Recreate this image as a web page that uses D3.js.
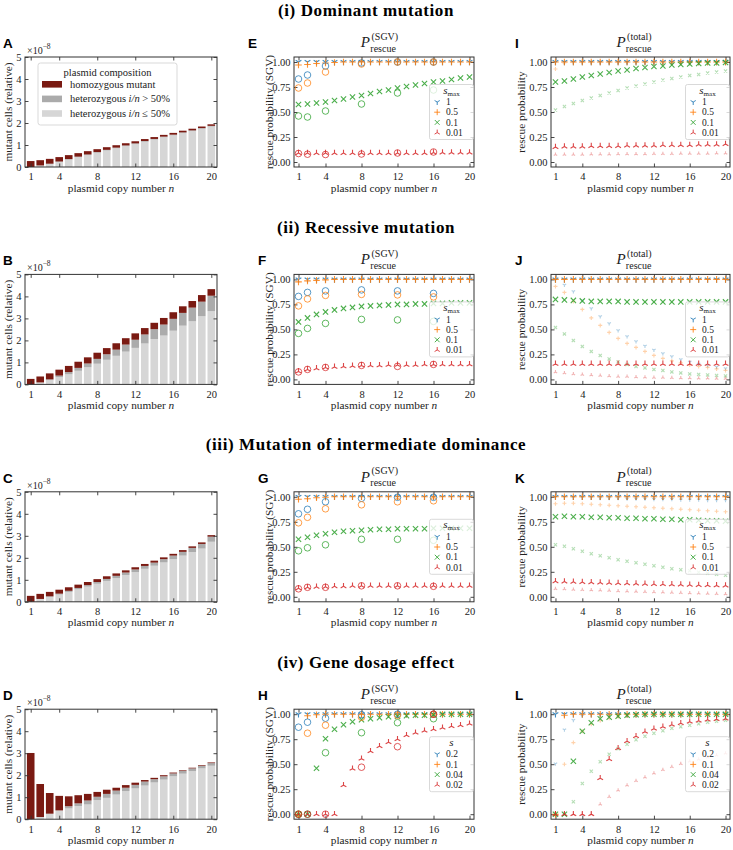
<!DOCTYPE html>
<html><head><meta charset="utf-8">
<script src="https://cdn.jsdelivr.net/npm/d3@7"></script>
<style>
body{margin:0;background:#fff;}
</style></head><body>
<svg id="fig" width="733" height="850"></svg>
<script>
// ---------------- DATA ----------------
const copyNumbers = [1,2,3,4,5,6,7,8,9,10,11,12,13,14,15,16,17,18,19,20];
const simCopyNumbers = [1,2,4,8,12,16];
const xTickValues = [1,4,8,12,16,20];
const barYTicks = [0,1,2,3,4,5];
const probYTicks = [0,0.25,0.5,0.75,1];
const rowTitles = ["(i) Dominant mutation","(ii) Recessive mutation","(iii) Mutation of intermediate dominance","(iv) Gene dosage effect"];
const barLetters = ["A","B","C","D"];
const sgvLetters = ["E","F","G","H"];
const totLetters = ["I","J","K","L"];
const legendLabelsSmax = ["1","0.5","0.1","0.01"];
const legendLabelsS = ["0.2","0.1","0.04","0.02"];

// bar panels (units of 1e-8): homozygous, heterozygous i/n>50%, heterozygous i/n<=50%
const domHomo    = [0.27,0.24,0.22,0.2,0.18,0.16,0.15,0.13,0.12,0.11,0.1,0.095,0.09,0.085,0.08,0.08,0.075,0.075,0.07,0.07];
const domHetHigh = [0,0,0.02,0.02,0.025,0.025,0.03,0.03,0.03,0.03,0.03,0.03,0.03,0.03,0.03,0.03,0.03,0.03,0.03,0.03];
const domHetLow  = [0,0.07,0.13,0.23,0.335,0.445,0.54,0.65,0.75,0.85,0.95,1.045,1.15,1.245,1.35,1.44,1.545,1.635,1.74,1.84];

const recHomo    = [0.25,0.27,0.27,0.27,0.28,0.28,0.28,0.28,0.28,0.29,0.29,0.29,0.29,0.29,0.3,0.3,0.3,0.3,0.3,0.3];
const recHetHigh = [0,0,0.04,0.07,0.1,0.13,0.17,0.22,0.25,0.28,0.32,0.37,0.41,0.45,0.5,0.54,0.58,0.62,0.66,0.7];
const recHetLow  = [0,0.09,0.19,0.33,0.46,0.62,0.78,0.94,1.12,1.3,1.49,1.66,1.86,2.06,2.22,2.44,2.67,2.87,3.1,3.33];

const intHomo    = [0.27,0.23,0.2,0.18,0.16,0.15,0.14,0.13,0.12,0.11,0.1,0.1,0.09,0.09,0.08,0.08,0.08,0.07,0.07,0.07];
const intHetHigh = [0,0,0.03,0.04,0.05,0.06,0.07,0.08,0.09,0.1,0.11,0.12,0.13,0.14,0.15,0.16,0.17,0.19,0.21,0.23];
const intHetLow  = [0,0.13,0.22,0.33,0.45,0.57,0.69,0.82,0.95,1.08,1.22,1.35,1.5,1.64,1.79,1.94,2.1,2.26,2.42,2.73];

const dosHomo    = [3.01,1.5,0.94,0.66,0.45,0.37,0.3,0.22,0.19,0.13,0.12,0.1,0.07,0.06,0.05,0.04,0.03,0.03,0.03,0.03];
const dosHetHigh = [0,0,0,0,0.1,0.12,0.18,0.15,0.18,0.18,0.15,0.16,0.18,0.15,0.15,0.13,0.12,0.12,0.12,0.12];
const dosHetLow  = [0,0.1,0.25,0.4,0.49,0.6,0.67,0.87,0.97,1.12,1.28,1.4,1.53,1.67,1.8,1.95,2.07,2.19,2.31,2.43];

// SGV panels: theory markers (4 series) and simulation circles
const E_s1   = [1,1,1,1,1,1,1,1,1,1,1,1,1,1,1,1,1,1,1,1];
const E_s05  = [0.97,0.975,0.985,0.99,0.995,1,1,1,1,1,1,1,1,1,1,1,1,1,1,1];
const E_s01  = [0.575,0.58,0.59,0.6,0.615,0.63,0.65,0.665,0.685,0.705,0.72,0.74,0.755,0.77,0.785,0.8,0.81,0.825,0.84,0.85];
const E_s001 = [0.09,0.09,0.09,0.09,0.09,0.09,0.09,0.09,0.09,0.09,0.09,0.09,0.09,0.09,0.09,0.095,0.095,0.095,0.095,0.095];
const E_sim1   = [0.83,0.87,0.96,0.99,1.0,1.0];
const E_sim05  = [0.74,0.79,0.9,0.98,1.0,1.0];
const E_sim01  = [0.46,0.45,0.51,0.58,0.69,0.72];
const E_sim001 = [0.085,0.078,0.075,0.08,0.09,0.1];

const F_s1   = [1,1,1,1,1,1,1,1,1,1,1,1,1,1,1,1,1,1,1,1];
const F_s05  = [0.975,0.985,0.99,0.995,1,1,1,1,1,1,1,1,1,1,1,1,1,1,1,1];
const F_s01  = [0.575,0.615,0.65,0.675,0.695,0.71,0.72,0.73,0.735,0.74,0.745,0.75,0.75,0.755,0.755,0.76,0.76,0.765,0.765,0.765];
const F_s001 = [0.08,0.1,0.11,0.12,0.125,0.13,0.135,0.14,0.14,0.14,0.145,0.145,0.145,0.145,0.15,0.15,0.15,0.15,0.15,0.15];
const F_sim1   = [0.83,0.87,0.885,0.895,0.885,0.86];
const F_sim05  = [0.735,0.805,0.84,0.85,0.845,0.825];
const F_sim01  = [0.46,0.51,0.56,0.6,0.595,0.58];
const F_sim001 = [0.075,0.1,0.12,0.14,0.13,0.15];

const G_s1   = [1,1,1,1,1,1,1,1,1,1,1,1,1,1,1,1,1,1,1,1];
const G_s05  = [0.975,0.98,0.99,0.995,1,1,1,1,1,1,1,1,1,1,1,1,1,1,1,1];
const G_s01  = [0.575,0.595,0.615,0.63,0.645,0.655,0.66,0.665,0.67,0.675,0.675,0.68,0.68,0.68,0.68,0.685,0.685,0.685,0.685,0.685];
const G_s001 = [0.085,0.095,0.1,0.1,0.105,0.105,0.11,0.11,0.11,0.11,0.11,0.11,0.11,0.11,0.11,0.11,0.11,0.11,0.11,0.11];
const G_sim1   = [0.83,0.875,0.95,0.985,0.995,0.995];
const G_sim05  = [0.74,0.795,0.88,0.92,0.95,0.96];
const G_sim01  = [0.46,0.49,0.52,0.575,0.575,0.565];
const G_sim001 = [0.08,0.095,0.095,0.11,0.11,0.105];

const H_s1   = [1,1,1,1,1,1,1,1,1,1,1,1,1,1,1,1,1,1,1,1];
const H_s05  = [0,0.985,0.995,1,1,1,1,1,1,1,1,1,1,1,1,1,1,1,1,1];
const H_s01  = [0,0,0.46,0.755,0.85,0.895,0.925,0.945,0.955,0.965,0.975,0.98,0.985,0.99,0.99,0.995,1,1,1,1];
const H_s001 = [0,0,0,0,0,0.29,0.455,0.555,0.63,0.68,0.72,0.75,0.79,0.815,0.835,0.85,0.865,0.88,0.89,0.905];
const H_sim1   = [0.87,0.92,0.96,0.995,1.0,1.0];
const H_sim05  = [0,0.81,0.89,0.97,0.99,1.0];
const H_sim01  = [0,0,0.615,0.815,0.915,0.955];
const H_sim001 = [0,0,0,0.47,0.675,1.0];

// total panels: markers and faint (de novo) points
const I_s1   = [1,1,1,1,1,1,1,1,1,1,1,1,1,1,1,1,1,1,1,1];
const I_s05  = [1,1,1,1,1,1,1,1,1,1,1,1,1,1,1,1,1,1,1,1];
const I_s01  = [0.8,0.81,0.83,0.85,0.865,0.88,0.895,0.91,0.92,0.935,0.945,0.955,0.96,0.97,0.975,0.98,0.985,0.99,0.99,0.995];
const I_s001 = [0.15,0.155,0.155,0.155,0.16,0.16,0.16,0.16,0.165,0.165,0.165,0.165,0.17,0.17,0.17,0.17,0.175,0.175,0.175,0.18];
const I_f1   = [0.995,1,1,1,1,1,1,1,1,1,1,1,1,1,1,1,1,1,1,1];
const I_f05  = [0.93,0.99,1,1,1,1,1,1,1,1,1,1,1,1,1,1,1,1,1,1];
const I_f01  = [0.52,0.555,0.585,0.615,0.64,0.665,0.69,0.715,0.74,0.76,0.78,0.8,0.82,0.835,0.85,0.865,0.875,0.89,0.9,0.91];
const I_f001 = [0.075,0.075,0.075,0.075,0.078,0.078,0.078,0.08,0.08,0.08,0.08,0.082,0.082,0.082,0.085,0.085,0.085,0.085,0.088,0.088];

const J_s1   = [1,1,1,1,1,1,1,1,1,1,1,1,1,1,1,1,1,1,1,1];
const J_s05  = [1,1,1,1,1,1,1,1,1,1,1,1,1,1,1,1,1,1,1,1];
const J_s01  = [0.8,0.795,0.79,0.785,0.78,0.78,0.78,0.78,0.775,0.775,0.775,0.775,0.775,0.775,0.775,0.775,0.775,0.775,0.775,0.775];
const J_s001 = [0.155,0.155,0.155,0.155,0.155,0.155,0.155,0.155,0.155,0.155,0.155,0.155,0.155,0.155,0.155,0.155,0.155,0.155,0.155,0.155];
const J_f1   = [0.995,0.945,0.88,0.79,0.71,0.63,0.56,0.49,0.43,0.38,0.335,0.295,0.26,0.23,0.2,0.175,0.155,0.14,0.125,0.11];
const J_f05  = [0.93,0.87,0.78,0.7,0.615,0.54,0.47,0.41,0.36,0.32,0.28,0.24,0.21,0.185,0.165,0.145,0.13,0.12,0.105,0.09];
const J_f01  = [0.52,0.455,0.39,0.33,0.28,0.24,0.205,0.175,0.15,0.13,0.115,0.1,0.09,0.075,0.065,0.055,0.05,0.045,0.04,0.035];
const J_f001 = [0.075,0.065,0.055,0.05,0.045,0.04,0.035,0.03,0.028,0.025,0.022,0.02,0.018,0.016,0.015,0.013,0.012,0.011,0.01,0.01];

const K_s1   = [1,1,1,1,1,1,1,1,1,1,1,1,1,1,1,1,1,1,1,1];
const K_s05  = [1,1,1,1,1,1,1,1,1,1,1,1,1,1,1,1,1,1,1,1];
const K_s01  = [0.8,0.805,0.8,0.8,0.795,0.795,0.79,0.79,0.785,0.785,0.78,0.78,0.775,0.775,0.77,0.77,0.765,0.76,0.76,0.755];
const K_s001 = [0.155,0.153,0.15,0.148,0.145,0.143,0.14,0.138,0.135,0.133,0.13,0.128,0.126,0.124,0.122,0.12,0.118,0.116,0.114,0.112];
const K_f1   = [0.995,0.995,0.99,0.99,0.99,0.985,0.985,0.985,0.98,0.98,0.98,0.975,0.975,0.975,0.97,0.97,0.97,0.965,0.965,0.965];
const K_f05  = [0.93,0.935,0.935,0.93,0.925,0.92,0.915,0.91,0.905,0.9,0.895,0.89,0.885,0.88,0.875,0.87,0.865,0.86,0.855,0.85];
const K_f01  = [0.52,0.505,0.48,0.455,0.43,0.41,0.39,0.37,0.355,0.34,0.325,0.31,0.295,0.28,0.27,0.26,0.245,0.235,0.225,0.215];
const K_f001 = [0.08,0.077,0.074,0.071,0.068,0.065,0.062,0.059,0.056,0.053,0.05,0.047,0.045,0.042,0.04,0.037,0.035,0.032,0.03,0.028];

const L_s1   = [1,1,1,1,1,1,1,1,1,1,1,1,1,1,1,1,1,1,1,1];
const L_s05  = [0,0.99,1,1,1,1,1,1,1,1,1,1,1,1,1,1,1,1,1,1];
const L_s01  = [0,0,0.53,0.83,0.915,0.955,0.97,0.98,0.99,0.995,1,1,1,1,1,1,1,1,1,1];
const L_s001 = [0,0,0,0,0,0.36,0.55,0.66,0.73,0.78,0.825,0.855,0.875,0.895,0.91,0.925,0.935,0.945,0.95,0.955];
const L_f1   = [0.505,0.845,0.94,0.985,1,1,1,1,1,1,1,1,1,1,1,1,1,1,1,1];
const L_f05  = [0,0.5,0.716,0.83,0.9,0.935,0.96,0.975,0.985,0.99,1,1,1,1,1,1,1,1,1,1];
const L_f01  = [0,0,0.125,0.307,0.43,0.525,0.6,0.655,0.7,0.745,0.78,0.81,0.835,0.86,0.875,0.89,0.905,0.92,0.93,0.94];
const L_f001 = [0,0,0,0,0,0.1,0.175,0.24,0.29,0.335,0.37,0.41,0.445,0.475,0.505,0.53,0.55,0.57,0.59,0.61];

// ---------------- STYLE / LAYOUT ----------------
const SERIF = '"Liberation Serif", "Times New Roman", Times, serif';
const SANS = '"Liberation Sans", Arial, Helvetica, sans-serif';
const seriesColors = ["#1f77b4","#ff7f0e","#2ca02c","#d62728"];
const barColors = {homo:"#7a1a12", hetHigh:"#ababab", hetLow:"#d6d6d6"};
const ROW = 217.4;
const colBar = {x0:25, x1:217};
const colSgv = {x0:294, x1:474};
const colTot = {x0:551, x1:730};

const barRows = [
  {homo:domHomo, hetHigh:domHetHigh, hetLow:domHetLow},
  {homo:recHomo, hetHigh:recHetHigh, hetLow:recHetLow},
  {homo:intHomo, hetHigh:intHetHigh, hetLow:intHetLow},
  {homo:dosHomo, hetHigh:dosHetHigh, hetLow:dosHetLow}
];
const sgvRows = [
  {th:[E_s1,E_s05,E_s01,E_s001], sim:[E_sim1,E_sim05,E_sim01,E_sim001]},
  {th:[F_s1,F_s05,F_s01,F_s001], sim:[F_sim1,F_sim05,F_sim01,F_sim001]},
  {th:[G_s1,G_s05,G_s01,G_s001], sim:[G_sim1,G_sim05,G_sim01,G_sim001]},
  {th:[H_s1,H_s05,H_s01,H_s001], sim:[H_sim1,H_sim05,H_sim01,H_sim001]}
];
const totRows = [
  {th:[I_s1,I_s05,I_s01,I_s001], faint:[I_f1,I_f05,I_f01,I_f001]},
  {th:[J_s1,J_s05,J_s01,J_s001], faint:[J_f1,J_f05,J_f01,J_f001]},
  {th:[K_s1,K_s05,K_s01,K_s001], faint:[K_f1,K_f05,K_f01,K_f001]},
  {th:[L_s1,L_s05,L_s01,L_s001], faint:[L_f1,L_f05,L_f01,L_f001]}
];

function triDown(r){const a=0.866*r,b=0.5*r;return `M0,0L0,${r}M0,0L${-a},${-b}M0,0L${a},${-b}`;}
function triUp(r){const a=0.866*r,b=0.5*r;return `M0,0L0,${-r}M0,0L${-a},${b}M0,0L${a},${b}`;}
function plusM(r){return `M${-r},0H${r}M0,${-r}V${r}`;}
function crossM(r){const c=r*0.8;return `M${-c},${-c}L${c},${c}M${-c},${c}L${c},${-c}`;}
const markerFns = [triDown, plusM, crossM, triUp];

const svg = d3.select("#fig");

function txt(sel){ return sel.style("font-family", SERIF).attr("fill","#222"); }

function frame(g, x, y, top, bottom, left, right, yFmt){
  const T = 3.5;
  const yt = y.domain()[1]>2?barYTicks:probYTicks;
  g.append("g").attr("transform",`translate(0,${bottom})`)
    .call(d3.axisBottom(x).tickValues(xTickValues).tickSize(-T).tickPadding(6).tickFormat(d3.format("d")))
    .call(a=>{a.select(".domain").remove(); a.selectAll("text").attr("font-size",10.5).style("font-family",SERIF).attr("fill","#222");});
  g.append("g").attr("transform",`translate(0,${top})`)
    .call(d3.axisTop(x).tickValues(xTickValues).tickSize(-T).tickFormat(""))
    .call(a=>a.select(".domain").remove());
  g.append("g").attr("transform",`translate(${left},0)`)
    .call(d3.axisLeft(y).tickValues(yt).tickSize(-T).tickPadding(3.5).tickFormat(yFmt))
    .call(a=>{a.select(".domain").remove(); a.selectAll("text").attr("font-size",10.5).style("font-family",SERIF).attr("fill","#222");});
  g.append("g").attr("transform",`translate(${right},0)`)
    .call(d3.axisRight(y).tickValues(yt).tickSize(-T).tickFormat(""))
    .call(a=>a.select(".domain").remove());
  g.selectAll(".tick line").attr("stroke","#333").attr("stroke-width",0.9);
  g.append("rect").attr("x",left).attr("y",top).attr("width",right-left).attr("height",bottom-top)
    .attr("fill","none").attr("stroke","#333").attr("stroke-width",1);
}

function xLabel(g, cx, baseline){
  const t = txt(g.append("text")).attr("x",cx).attr("y",baseline).attr("text-anchor","middle").attr("font-size",11.3);
  t.append("tspan").text("plasmid copy number ");
  t.append("tspan").attr("font-style","italic").text("n");
}
function yLabel(g, cx, cy, s){
  txt(g.append("text")).attr("transform",`translate(${cx+3.5},${cy}) rotate(-90)`).attr("text-anchor","middle")
    .attr("font-size",11.3).text(s);
}
function panelLetter(g, x, yc, letter){
  g.append("text").attr("x",x).attr("y",yc+4.8).style("font-family",SANS)
    .attr("font-weight","bold").attr("font-size",13.5).attr("fill","#000").text(letter);
}
function pTitle(g, cx, top, supTxt){
  const grp = g.append("g");
  const P = txt(grp.append("text")).attr("x",0).attr("y",top-10).attr("font-size",15).attr("font-style","italic").text("P");
  const pw = P.node().getComputedTextLength();
  const sup = txt(grp.append("text")).attr("x",pw+1.5).attr("y",top-17.5).attr("font-size",10).text(supTxt);
  const sub = txt(grp.append("text")).attr("x",pw+0.3).attr("y",top-5.5).attr("font-size",10).text("rescue");
  const w = pw + 1.5 + Math.max(sup.node().getComputedTextLength(), sub.node().getComputedTextLength());
  grp.attr("transform",`translate(${cx - w/2},0)`);
}

function scatterLegend(g, right, cy, isDosage){
  const w = 44, h = 55;
  const lx = right - w - 0.5, ly = cy - h/2;
  const lg = g.append("g");
  lg.append("rect").attr("x",lx).attr("y",ly).attr("width",w).attr("height",h).attr("rx",2)
    .attr("fill","#fff").attr("fill-opacity",0.8).attr("stroke","#cfcfcf").attr("stroke-width",0.8);
  const tt = txt(lg.append("text")).attr("x",lx+w/2).attr("y",ly+9).attr("text-anchor","middle");
  tt.append("tspan").attr("font-style","italic").attr("font-size",11).text("s");
  if(!isDosage){ tt.append("tspan").attr("font-size",7).attr("dy",2).text("max"); }
  const labels = isDosage ? legendLabelsS : legendLabelsSmax;
  labels.forEach((lab,k)=>{
    const yy = ly + 17.5 + k*10.2;
    lg.append("path").attr("transform",`translate(${lx+7.7},${yy})`).attr("d",markerFns[k](3))
      .attr("stroke",seriesColors[k]).attr("fill","none").attr("stroke-width",1).attr("opacity",0.85);
    txt(lg.append("text")).attr("x",lx+16.5).attr("y",yy+3.2).attr("font-size",9.5).text(lab);
  });
}

function drawMarkers(g, x, y, vals, k, r, op, xs){
  g.append("g").selectAll("path").data(vals).join("path")
    .attr("transform",(v,i)=>`translate(${x(xs[i])},${y(v)})`)
    .attr("d",markerFns[k](r)).attr("stroke",seriesColors[k]).attr("fill","none")
    .attr("stroke-width",1.1).attr("opacity",op);
}

for(let r=0;r<4;r++){
  const base = r*ROW;
  const top = 57 + base, bottom = 167 + base;
  const g = svg.append("g");

  // row title
  txt(g.append("text")).attr("x",366).attr("y",15.5+base).attr("text-anchor","middle")
    .attr("font-weight","bold").attr("font-size",17).attr("letter-spacing",0.6).attr("fill","#000").text(rowTitles[r]);

  // ---- bar panel ----
  {
    const x = d3.scaleLinear().domain([0.4,20.6]).range([colBar.x0,colBar.x1]);
    const y = d3.scaleLinear().domain([0,5]).range([bottom,top]);
    const table = copyNumbers.map((n,i)=>({n, hetLow:barRows[r].hetLow[i], hetHigh:barRows[r].hetHigh[i], homo:barRows[r].homo[i]}));
    const stacked = d3.stack().keys(["hetLow","hetHigh","homo"])(table);
    stacked.forEach(layer=>{
      g.append("g").selectAll("rect").data(layer).join("rect")
        .attr("x",d=>x(d.data.n-0.4)).attr("width",d=>x(0.8)-x(0))
        .attr("y",d=>y(d[1])).attr("height",d=>Math.max(0,y(d[0])-y(d[1])))
        .attr("fill",barColors[layer.key]);
    });
    frame(g, x, y, top, bottom, colBar.x0, colBar.x1, d3.format("d"));
    xLabel(g, (colBar.x0+colBar.x1)/2, bottom+24.5);
    yLabel(g, 8, (top+bottom)/2, "mutant cells (relative)");
    panelLetter(g, 3, 43+base, barLetters[r]);
    const mt = txt(g.append("text")).attr("x",27).attr("y",54+base).attr("font-size",10);
    mt.append("tspan").text("×10");
    mt.append("tspan").attr("dy",-5).attr("font-size",7.5).text("−8");

    if(r===0){
      const lg = g.append("g");
      lg.append("rect").attr("x",38).attr("y",63).attr("width",139).attr("height",62).attr("rx",2.5)
        .attr("fill","#fff").attr("fill-opacity",0.85).attr("stroke","#cfcfcf").attr("stroke-width",0.8);
      txt(lg.append("text")).attr("x",107.5).attr("y",75.5).attr("text-anchor","middle").attr("font-size",10.5).text("plasmid composition");
      const items = [["homo",null],["hetHigh",">"],["hetLow","≤"]];
      items.forEach((it,k)=>{
        const yy = 84.3 + k*14.6;
        lg.append("rect").attr("x",42).attr("y",yy-3.3).attr("width",20).attr("height",6.6).attr("fill",barColors[it[0]]);
        const t = txt(lg.append("text")).attr("x",70).attr("y",yy+3.5).attr("font-size",10.5);
        if(it[1]===null){ t.text("homozygous mutant"); }
        else{
          t.append("tspan").text("heterozygous ");
          t.append("tspan").attr("font-style","italic").text("i/n");
          t.append("tspan").text(` ${it[1]} 50%`);
        }
      });
    }
  }

  // ---- SGV panel ----
  {
    const x = d3.scaleLinear().domain([0.5,20.5]).range([colSgv.x0,colSgv.x1]);
    const y = d3.scaleLinear().domain([-0.05,1.05]).range([bottom,top]);
    frame(g, x, y, top, bottom, colSgv.x0, colSgv.x1, d3.format(".2f"));
    sgvRows[r].th.forEach((vals,k)=>drawMarkers(g,x,y,vals,k,3.3,0.85,copyNumbers));
    sgvRows[r].sim.forEach((vals,k)=>{
      g.append("g").selectAll("circle").data(vals).join("circle")
        .attr("cx",(v,i)=>x(simCopyNumbers[i])).attr("cy",v=>y(v)).attr("r",3.3)
        .attr("fill","none").attr("stroke",seriesColors[k]).attr("stroke-width",1).attr("opacity",0.75);
    });
    scatterLegend(g, colSgv.x1, (top+bottom)/2, r===3);
    xLabel(g, (colSgv.x0+colSgv.x1)/2, bottom+24.5);
    yLabel(g, 269, (top+bottom)/2, "rescue probability (SGV)");
    panelLetter(g, r===0?248:258, 43+base, sgvLetters[r]);
    pTitle(g, (colSgv.x0+colSgv.x1)/2-4.5, top, "(SGV)");
  }

  // ---- total panel ----
  {
    const x = d3.scaleLinear().domain([0.5,20.5]).range([colTot.x0,colTot.x1]);
    const y = d3.scaleLinear().domain([-0.05,1.05]).range([bottom,top]);
    frame(g, x, y, top, bottom, colTot.x0, colTot.x1, d3.format(".2f"));
    totRows[r].faint.forEach((vals,k)=>drawMarkers(g,x,y,vals,k,2,0.35,copyNumbers));
    totRows[r].th.forEach((vals,k)=>drawMarkers(g,x,y,vals,k,3.3,0.85,copyNumbers));
    scatterLegend(g, colTot.x1, (top+bottom)/2, r===3);
    xLabel(g, (colTot.x0+colTot.x1)/2, bottom+24.5);
    yLabel(g, 521, (top+bottom)/2, "rescue probability");
    panelLetter(g, 515, 43+base, totLetters[r]);
    pTitle(g, (colTot.x0+colTot.x1)/2-6, top, "(total)");
  }
}
</script>
</body></html>
